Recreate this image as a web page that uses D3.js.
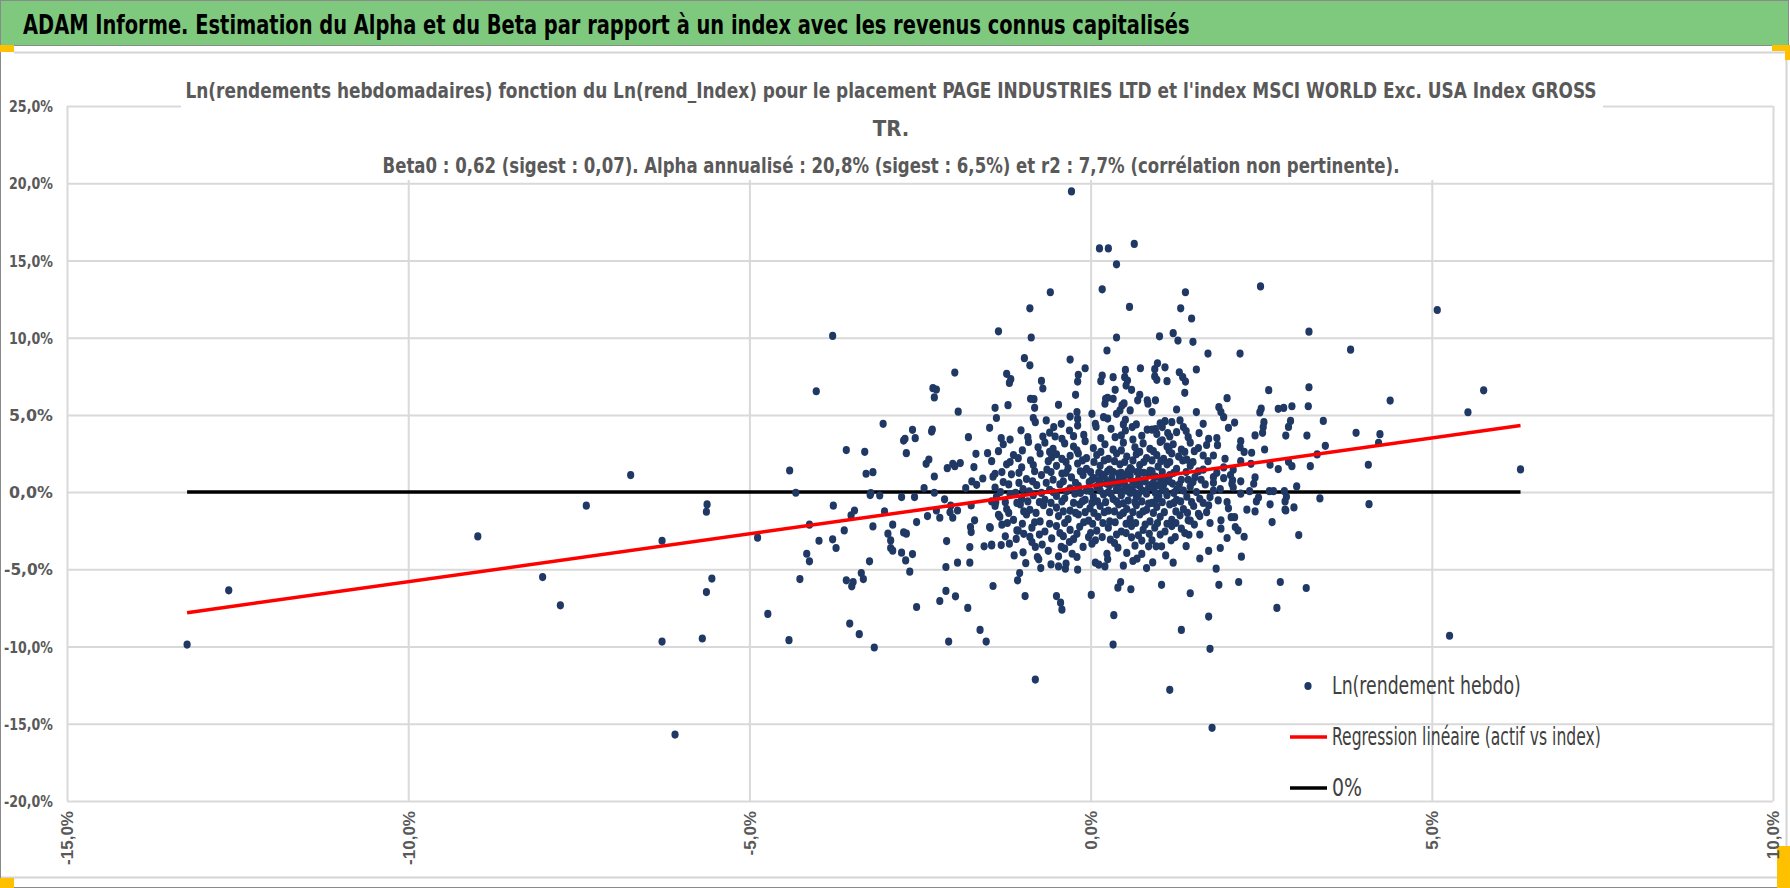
<!DOCTYPE html>
<html><head><meta charset="utf-8">
<script src="https://cdn.jsdelivr.net/npm/d3@7"></script>
<style>
html,body{margin:0;padding:0;background:#fff;}
svg{display:block;}
</style></head>
<body>
<svg id="c" width="1790" height="888"></svg>
<script>
// ---------- DATA (values in %) ----------
const pageTitle = "ADAM Informe. Estimation du Alpha et du Beta par rapport à un index avec les revenus connus capitalisés";
const chartTitleLines = [
  "Ln(rendements hebdomadaires) fonction du Ln(rend_Index) pour le placement PAGE INDUSTRIES LTD et l'index MSCI WORLD Exc. USA Index GROSS",
  "TR.",
  "Beta0 : 0,62 (sigest : 0,07). Alpha annualisé : 20,8% (sigest : 6,5%) et r2 : 7,7% (corrélation non pertinente)."
];
const legendLabels = ["Ln(rendement hebdo)", "Regression linéaire (actif vs index)", "0%"];
const xTicks = [-15, -10, -5, 0, 5, 10];
const yTicks = [-20, -15, -10, -5, 0, 5, 10, 15, 20, 25];
const beta = 0.62;          // slope of regression
const alphaWeekly = 0.40;   // weekly intercept in %

// index weekly log-return (x) vs asset weekly log-return (y), in %
const pointsLeft = [
[-13.24,-9.87],[-12.63,-6.36],[-8.98,-2.87],[-8.03,-5.50],[-7.77,-7.33],[-7.39,-0.88],[-6.74,1.10],[-6.28,-3.15],[-6.28,-9.68],[-6.09,-15.7],
[-5.69,-9.48],[-5.63,-6.47],[-5.55,-5.60],[-5.62,-0.80],[-5.63,-1.27]
];
const pointsMidLeft = [
[-4.88,-2.95],[-4.73,-7.89],[-4.42,-9.59],[-4.41,1.40],[-4.32,-0.04],[-4.26,-5.63],[-4.16,-3.99],[-4.12,-4.48],[-4.12,-2.11],[-3.98,-3.15],
[-3.78,-3.06],[-3.77,-0.88],[-3.73,-3.62],[-3.61,-2.48],[-3.58,2.72],[-3.58,-5.71],[-3.53,-8.51],[-3.51,-1.51],[-3.50,-6.10],[-3.48,-5.82],
[-3.46,-1.19],[-3.39,-9.20],[-3.36,-5.24],[-3.33,-5.63],[-3.31,2.61],[-3.29,1.19],[-3.24,-4.48],[-3.23,-0.19],[-3.22,-0.06],[-3.19,1.29],
[-3.19,-2.22],[-3.17,-10.06],[-3.09,-0.22],[-3.04,4.42],[-3.02,-1.25],[-2.97,-2.69],[-2.93,-3.13],[-2.93,-3.62],[-2.90,-3.79],[-2.90,-2.11],
[-2.77,-0.32],[-2.77,-3.92],[-2.74,3.34],[-2.72,3.45],[-2.74,-2.61],[-2.70,-2.69],[-2.71,-4.42],[-2.70,2.52],[-2.65,-5.15],[-2.61,4.03],
[-2.61,-4.01],[-2.57,3.49],[-2.58,-0.32],[-2.55,-1.94],[-2.55,-7.44],[-2.44,0.26],[-2.41,1.83],[-2.39,-1.55],[-2.37,2.11],[-2.33,3.92],
[-2.29,-0.04],[-2.29,1.01],[-2.26,-1.19],[-2.21,-1.66],[-2.21,-7.05],[-2.14,-0.47],[-2.12,-6.40],[-2.12,-4.85],[-2.10,1.55],[-2.11,-3.17],
[-2.08,-9.68],[-2.06,-1.31],[-2.05,-0.88],[-2.02,1.83],[-2.02,-1.66],[-1.99,1.68],[-1.98,-6.75],[-1.95,-4.57],[-1.95,-1.19],[-1.91,1.88],
[-1.83,0.26],[-1.80,-7.50],[-1.79,3.56],[-1.77,-4.57],[-1.77,-3.56],[-1.76,-2.26],[-1.75,-2.59],[-1.75,-0.86],[-1.74,0.69],[-1.71,1.62],
[-1.70,-1.83],[-1.68,2.48],[-1.67,0.47],[-1.62,-8.92],[-1.58,0.88],[-1.56,-3.51],[-1.53,-9.68],[-1.51,2.52],[-1.48,4.16],[-1.47,-2.31],
[-1.45,-3.45],[-1.43,-6.08],[-1.40,1.19],[-1.39,-0.67],[-1.35,-1.47],
[-3.78,10.11],[-4.02,6.53],[-2.32,4.05],[-2.31,6.73],[-2.26,6.64],[-2.29,6.13],[-1.99,7.74],[-1.94,5.21],[-1.38,4.80],[-1.35,10.41]
];
const pointsUpper = [
[-0.28,19.47],[0.13,15.78],[0.26,15.78],[0.64,16.07],[0.38,14.75],[0.17,13.13],[-0.59,12.94],[-0.89,11.90],[0.57,11.99],[1.39,12.94],
[1.32,11.90],[2.49,13.32],[1.48,11.24],[-0.87,10.01],[0.38,10.01],[1.01,10.09],[1.21,10.29],[1.28,9.81],[1.50,9.73],[0.24,9.17],
[1.72,8.97],[2.19,8.97],[-0.97,8.67],[-0.30,8.58],[-0.89,8.21],[-0.08,8.02],[-1.23,7.66],[-1.17,7.31],[-1.19,7.07],[-0.72,7.20],
[-0.70,6.71],[-0.18,7.60],[-0.19,7.16],[-0.22,6.30],[0.17,7.55],[0.15,7.18],[0.33,7.44],[0.51,7.91],[0.50,7.44],[0.54,7.22],
[0.52,6.90],[0.60,6.62],[0.36,6.62],[0.73,8.02],[0.94,7.96],[0.98,8.34],[1.09,8.08],[0.94,7.49],[0.97,7.27],[1.12,7.18],
[1.30,7.76],[1.35,7.44],[1.39,7.16],[1.38,6.43],[1.55,7.94],[2.61,6.60],[0.22,6.04],[0.21,5.72],[0.25,6.11],[0.33,6.04],
[0.72,6.30],[0.69,5.94],[0.83,5.94],[0.95,5.94],[0.84,5.72],[0.90,5.18],[0.46,5.61],[0.49,5.74],[0.38,5.07],[0.43,5.29],
[0.58,5.29],[1.26,5.35],[1.55,5.18],[2.00,6.08],[1.88,5.50],[1.91,5.18],[1.95,4.85],[2.11,4.50],[2.02,4.16],[2.50,5.40],
[2.48,5.16],[2.54,4.53],[2.53,4.21],[2.52,3.84],[2.41,3.67],[-1.40,5.46],[-1.21,5.63],[-1.31,3.49],[-0.88,6.04],[-0.83,6.02],
[-0.82,5.46],[-0.47,5.65],[-0.84,4.80],[-0.81,4.53],[-0.65,4.64],[-0.70,3.60],[-0.54,4.21],[-0.52,3.60],[-0.43,4.42],[-0.30,4.89],
[-0.20,5.18],[-0.19,4.74],[-0.19,4.31],[-0.31,3.99],[-0.25,3.62],[-0.92,3.56],[0.02,5.07],[0.07,4.42],[0.08,4.23],[0.19,4.85],
[0.25,4.76],[0.51,4.68],[0.48,4.38],[0.51,3.99],[0.61,4.21],[0.67,4.38],[0.36,3.56],[0.45,3.67],[0.83,4.04],[0.90,4.04],
[0.95,4.08],[0.97,3.77],[1.02,4.46],[1.09,4.59],[1.05,4.21],[1.13,3.82],[1.19,4.53],[1.31,4.64],[1.16,3.60],[1.26,3.88],
[1.36,4.21],[1.43,3.56],[1.59,3.82],[1.65,4.42],[1.73,3.45]
];
const pointsLower = [
[-1.07,-5.71],[-1.04,-5.24],[-0.96,-6.73],[-0.50,-6.73],[-0.44,-7.16],[-0.42,-7.61],[0.01,-6.66],[0.34,-7.97],[0.33,-9.87],[0.40,-6.19],
[0.44,-5.82],[0.59,-6.29],[1.04,-6.00],[1.46,-6.55],[1.33,-8.92],[1.16,-12.80],[1.73,-8.06],[1.75,-10.15],[1.78,-15.26],[1.88,-6.00],
[2.17,-5.82],[2.73,-7.50],[-0.81,-12.14],[1.84,-4.96],[1.73,-3.81],[2.21,-4.18],[1.90,-3.62],[2.00,-2.97],[2.25,-2.89],[2.66,-1.94],
[2.41,-1.25],[2.29,-1.14],[2.85,-1.14],[2.63,-0.79],[2.43,-0.60],[2.68,0.06],[2.62,0.06],[2.33,0.06],[2.39,0.54],[2.63,1.77],
[2.55,2.76],[2.36,2.55],[2.19,2.91],[2.35,1.83],[1.86,3.04],[2.09,1.45],[2.05,1.10],[2.08,0.76],[2.07,0.54],[2.11,-1.62],
[2.06,-1.62],[2.12,-2.26],[2.16,-2.48],[1.91,-2.37],[1.91,-1.83],[2.00,-0.64],[1.87,-0.54],[1.73,-0.86],[1.75,-0.32],[1.80,0.97],
[1.97,2.16],[1.80,2.37],[1.65,2.37],[1.53,0.97],[1.43,0.80],[1.60,-0.43],[1.58,-1.40],[1.43,-1.83],[1.33,-2.37],[1.44,-2.76],
[1.24,-2.91],[1.18,-3.12],[1.04,-3.51],[0.96,-3.51],[0.90,-3.12],[0.85,-3.51],[0.82,-4.92],[0.91,-4.55],[1.21,-4.57],[0.68,-4.31],
[0.62,-4.46],[0.48,-4.76],[0.53,-3.94],[0.65,-3.47],[0.75,-3.14],[0.60,-2.93],[0.07,-4.57],[0.12,-4.70],[0.21,-4.81],[0.25,-4.35],
[0.24,-3.99],[0.29,-3.08],[0.17,-2.91],[0.07,-3.12],[0.02,-3.34],[-0.03,-2.91],[-0.19,-5.02],[-0.37,-4.96],[-0.36,-4.63],[-0.47,-4.81],
[-0.47,-4.16],[-0.58,-4.68],[-0.73,-4.92],[-0.76,-4.35],[-0.78,-4.20],[-0.81,-3.55],[-0.71,-3.40],[-0.99,-3.90],[-0.86,-3.23],[-1.19,-3.34],
[-1.31,-3.43],[-1.45,-3.40],[-1.25,-2.86],[-1.09,-3.03],[-1.08,-2.48],[-1.30,-2.11],[-1.48,-2.26],[-0.31,-3.23],[-0.43,-3.55],[-0.38,-3.66],
[-0.27,-3.99],[-0.11,-3.55]
];
const pointsBand = [
[-1.28,3.1],[-0.91,3.25],[-0.77,2.9],[-0.67,3.2],[-0.55,2.8],[-0.38,3.15],[-0.25,2.95],[-0.08,3.3],[0.04,2.85],[0.21,3.1],
[0.33,2.75],[0.48,3.2],[0.65,2.9],[0.77,3.15],[0.87,2.8],[1.02,3.25],[1.12,2.95],[1.21,3.1],[1.33,2.75],[1.46,3.2],[1.58,2.85],[1.70,3.05],
[-1.13,2.4],[-1.06,2.2],[-0.74,2.5],[-0.57,2.25],[-0.50,2.45],[-0.42,2.15],[-0.30,2.35],[-0.18,2.5],[-0.06,2.2],[0.09,2.4],
[0.26,2.15],[0.38,2.5],[0.53,2.3],[0.67,2.45],[0.82,2.2],[0.97,2.4],[1.07,2.15],[1.19,2.5],[1.29,2.3],[1.41,2.1],
[-1.23,1.8],[-1.01,1.6],[-0.84,1.75],[-0.64,1.45],[-0.50,1.7],[-0.33,1.55],[-0.19,1.85],[-0.06,1.5],[0.14,1.7],[0.28,1.45],
[0.43,1.8],[0.58,1.55],[0.72,1.75],[0.87,1.4],[0.99,1.65],[1.12,1.8],[1.26,1.5],[1.46,1.7],[1.65,1.45],[1.95,1.6],
[-1.43,1.0],[-1.16,1.15],[-0.94,0.85],[-0.72,1.1],[-0.55,0.8],[-0.42,1.2],[-0.28,0.95],[-0.11,1.1],[0.02,0.8],[0.16,1.15],
[0.31,0.9],[0.41,1.2],[0.48,0.75],[0.58,1.05],[0.70,0.85],[0.85,1.15],[1.02,0.9],[1.16,1.1],[1.33,0.8],[1.95,0.9],[2.41,0.95],
[-1.40,0.3],[-1.20,0.5],[-0.99,0.2],[-0.79,0.45],[-0.60,0.15],[-0.45,0.5],[-0.30,0.25],[-0.18,0.4],[-0.06,0.1],[0.09,0.35],
[0.23,0.55],[0.38,0.2],[0.50,0.45],[0.60,0.15],[0.72,0.4],[0.92,0.25],[1.07,0.5],[1.26,0.15],[1.46,0.35],[1.68,0.5],[1.90,0.2],[2.09,0.3],
[-1.38,-0.3],[-1.18,-0.15],[-1.01,-0.45],[-0.84,-0.2],[-0.67,-0.5],[-0.50,-0.25],[-0.38,-0.4],[-0.23,-0.1],[-0.08,-0.5],[0.04,-0.3],
[0.19,-0.15],[0.33,-0.45],[0.45,-0.2],[0.55,-0.55],[0.67,-0.3],[0.82,-0.1],[0.97,-0.45],[1.12,-0.2],[1.26,-0.5],[1.41,-0.3],[2.46,-0.35],[2.87,-0.3],
[-1.40,-0.9],[-1.23,-1.1],[-1.03,-0.8],[-0.89,-1.15],[-0.69,-0.85],[-0.50,-1.0],[-0.30,-1.2],[-0.16,-0.8],[-0.01,-1.05],[0.14,-0.9],
[0.26,-1.2],[0.41,-0.8],[0.53,-1.1],[0.67,-0.85],[0.82,-1.15],[0.97,-0.95],[1.16,-0.8],[1.36,-1.1],[1.51,-0.9],[2.02,-1.05],
[-1.33,-1.6],[-1.13,-1.8],[-0.94,-1.45],[-0.74,-1.9],[-0.47,-1.55],[-0.33,-1.75],[-0.18,-1.45],[-0.03,-1.85],[0.11,-1.6],[0.28,-1.9],
[0.43,-1.5],[0.58,-1.75],[0.72,-1.45],[0.87,-1.9],[1.02,-1.6],[1.19,-1.8],[1.31,-1.5],[1.46,-1.85],[1.60,-1.55],
[-1.06,-2.5],[-0.86,-2.3],[-0.67,-2.55],[-0.50,-2.2],[-0.30,-2.45],[-0.16,-2.25],[0.09,-2.5],[0.26,-2.3],[0.45,-2.55],[0.60,-2.2],
[0.77,-2.45],[0.94,-2.3],[1.09,-2.55],[1.19,-2.2],[-0.89,-2.9],[-0.57,-3.0],[-0.40,-2.85],[-0.25,-3.05],
[0.35,0.6],[0.42,0.9],[0.55,0.3],[0.62,0.65],[0.68,1.3],[0.75,0.1],[0.80,0.7],[0.88,0.45],[0.95,1.0],[1.05,0.2],
[1.10,0.75],[0.30,-0.1],[0.45,0.05],[0.58,-0.05],[0.70,-0.15],[0.85,0.3],[0.50,1.1],[0.40,0.35],[0.65,-0.65],[0.90,-0.7],
[0.25,0.7],[0.15,0.55],[0.10,-0.6],[1.00,-0.25],[1.20,0.55],[0.78,1.25],[0.60,1.45],[0.33,1.3],[0.20,1.0],[0.05,0.9]
];
const pointsBand2 = [
[-1.35,2.65],[-1.0,2.7],[-0.6,2.6],[-0.2,2.7],[0.15,2.6],[0.45,2.7],[0.72,2.6],[0.92,2.65],[1.15,2.7],[1.38,2.6],[1.52,2.65],[2.25,2.6],
[-1.45,2.0],[-1.18,1.95],[-0.88,2.05],[-0.62,2.0],[-0.36,1.95],[-0.12,2.05],[0.05,1.95],[0.2,2.05],[0.35,2.0],[0.5,1.95],[0.62,2.05],
[0.78,1.95],[0.9,2.05],[1.03,2.0],[1.16,1.95],[1.35,2.05],[1.5,1.95],[1.72,2.0],[2.2,2.0],
[-1.3,1.3],[-1.05,1.25],[-0.82,1.35],[-0.58,1.3],[-0.36,1.25],[-0.15,1.35],[0.0,1.3],[0.12,1.25],[0.25,1.35],[0.45,1.25],[0.55,1.35],
[0.72,1.3],[0.9,1.35],[1.05,1.3],[1.22,1.25],[1.4,1.3],[1.58,1.35],[1.85,1.25],
[-1.28,0.65],[-1.05,0.6],[-0.85,0.7],[-0.65,0.6],[-0.4,0.7],[-0.22,0.6],[-0.02,0.65],[0.12,0.75],[0.28,0.45],[0.46,0.62],[0.66,0.5],
[0.75,0.75],[0.92,0.6],[1.0,0.45],[1.15,0.7],[1.3,0.5],[1.5,0.65],[1.62,0.8],[1.8,0.6],[2.2,0.7],
[-1.32,0.0],[-1.1,-0.05],[-0.9,0.05],[-0.72,-0.05],[-0.55,0.0],[-0.35,0.05],[-0.15,-0.05],[0.0,0.05],[0.14,0.1],[0.26,0.0],[0.52,0.1],
[0.63,0.0],[0.8,0.05],[0.95,-0.05],[1.1,0.05],[1.22,-0.05],[1.36,0.1],[1.55,0.0],[1.8,0.1],[2.2,-0.1],
[-1.45,-0.6],[-1.25,-0.65],[-1.08,-0.7],[-0.92,-0.6],[-0.75,-0.65],[-0.58,-0.7],[-0.42,-0.6],[-0.25,-0.7],[-0.12,-0.6],[0.02,-0.7],
[0.22,-0.65],[0.38,-0.6],[0.48,-0.72],[0.75,-0.6],[0.85,-0.75],[1.05,-0.65],[1.22,-0.7],[1.32,-0.6],[1.48,-0.65],[1.65,-0.7],
[-1.2,-1.35],[-0.98,-1.25],[-0.8,-1.35],[-0.6,-1.3],[-0.4,-1.25],[-0.22,-1.35],[-0.08,-1.3],[0.05,-1.35],[0.2,-1.3],[0.35,-1.25],
[0.48,-1.35],[0.62,-1.3],[0.77,-1.25],[0.92,-1.35],[1.08,-1.3],[1.25,-1.25],[1.42,-1.35],[1.7,-1.3],
[-1.22,-2.0],[-1.0,-2.05],[-0.82,-1.95],[-0.6,-2.05],[-0.38,-2.0],[-0.1,-1.95],[0.03,-2.05],[0.18,-2.0],[0.36,-1.95],[0.52,-2.05],
[0.66,-2.0],[0.8,-2.1],[0.98,-2.0],[1.12,-2.05],[1.25,-2.0],[1.52,-2.1],[1.75,-2.0],
[-0.98,-2.7],[-0.75,-2.75],[-0.45,-2.65],[-0.2,-2.7],[0.0,-2.65],[0.38,-2.75],[0.52,-2.65],[0.7,-2.8],[0.86,-2.7],[1.02,-2.75],[1.38,-2.65],[1.6,-2.75],
[-1.18,3.4],[-1.02,4.0],[-0.6,3.85],[-0.42,3.45],[-0.1,3.7],[0.15,3.5],[0.3,4.1],[0.62,3.4],[0.75,3.65],[1.05,3.35],[1.4,3.95],[1.85,3.5],[2.2,3.3],
[-1.12,-4.1],[-0.62,-3.8],[-0.2,-4.2],[0.4,-3.6],[0.75,-4.0],[1.1,-4.1],[1.4,-3.5],[1.6,-4.3],[-0.95,-4.6],[0.35,-3.3]
];
const pointsRight = [
[5.08,11.79],[3.20,10.39],[3.81,9.22],[3.20,6.79],[5.76,6.59],[4.39,5.93],[5.53,5.17],[2.75,5.39],[2.83,5.45],[2.95,5.56],
[3.19,5.56],[2.93,4.61],[2.90,4.22],[3.41,4.61],[2.86,3.66],[3.17,3.66],[3.89,3.84],[4.24,3.75],[4.22,3.19],[3.44,3.00],
[3.32,2.44],[2.90,1.96],[2.95,1.68],[3.22,1.68],[4.07,1.77],[2.75,1.49],[6.30,1.47],[3.02,0.37],[2.84,0.06],[3.36,-0.41],
[2.85,-0.60],[2.86,-1.19],[2.98,-0.99],[4.08,-0.78],[3.05,-2.78],[2.78,-5.82],[3.16,-6.21],[5.26,-9.30]
];
const allPoints = [].concat(pointsLeft, pointsMidLeft, pointsUpper, pointsLower, pointsBand, pointsBand2, pointsRight);

// ---------- LAYOUT ----------
const svg = d3.select("#c");
const plot = {left: 67, right: 1773, top: 106, bottom: 801};
const x = d3.scaleLinear().domain([xTicks[0], xTicks[xTicks.length-1]]).range([plot.left, plot.right]);
const y = d3.scaleLinear().domain([yTicks[0], yTicks[yTicks.length-1]]).range([plot.bottom, plot.top]);
const fmt = d => d.toFixed(1).replace(".", ",") + "%";
const NARROW = "'Liberation Sans Narrow','DejaVu Sans Condensed','Arial Narrow',sans-serif";

// place a text at (tx,ty) and squeeze it horizontally to a target width
function fitText(sel, tx, ty, width) {
  const w = sel.node().getComputedTextLength();
  const s = w > 0 ? width / w : 1;
  sel.attr("x", 0).attr("y", 0).attr("transform", `translate(${tx},${ty}) scale(${s},1)`);
}

// frame
svg.append("rect").attr("x",0).attr("y",0).attr("width",1790).attr("height",888).attr("fill","#fff");
svg.append("rect").attr("x",0.5).attr("y",0.5).attr("width",1788).attr("height",45).attr("fill","#7fc97f").attr("stroke","#8a8a8a").attr("stroke-width",1);
svg.append("path").attr("d","M14,52.5H1786.5V877.5H0.5").attr("fill","none").attr("stroke","#d4d4d4").attr("stroke-width",2);
svg.append("line").attr("x1",0.5).attr("x2",0.5).attr("y1",46).attr("y2",888).attr("stroke","#8a8a8a");
svg.append("line").attr("x1",0).attr("x2",1790).attr("y1",887.5).attr("y2",887.5).attr("stroke","#8a8a8a");
const orange = "#ffc000";
svg.append("rect").attr("x",0).attr("y",45).attr("width",14).attr("height",7).attr("fill",orange);
svg.append("rect").attr("x",1772).attr("y",45).attr("width",18).attr("height",6).attr("fill",orange);
svg.append("rect").attr("x",1785).attr("y",45).attr("width",5).attr("height",15).attr("fill",orange);
svg.append("rect").attr("x",0).attr("y",878).attr("width",14).attr("height",10).attr("fill",orange);
svg.append("rect").attr("x",1777).attr("y",846).attr("width",13).attr("height",42).attr("fill",orange);

// page title
const pt = svg.append("text").text(pageTitle)
  .attr("font-family",NARROW).attr("font-weight","bold").attr("font-size",26).attr("fill","#000");
fitText(pt, 23, 34, 1167);

// gridlines + y labels
const yAxis = d3.axisLeft(y).tickValues(yTicks).tickSize(-(plot.right-plot.left)).tickFormat(fmt).tickPadding(0);
const gy = svg.append("g").attr("transform",`translate(${plot.left},0)`).call(yAxis);
gy.select(".domain").remove();
gy.selectAll(".tick line").attr("stroke","#d9d9d9").attr("stroke-width",2);
gy.selectAll(".tick text").attr("font-family",NARROW).attr("font-weight","bold").attr("font-size",16).attr("fill","#595959")
  .attr("text-anchor","end").attr("dy","0.35em")
  .each(function(d){ fitText(d3.select(this), -14, 0, d < 0 ? 49 : 44); });

const xAxis = d3.axisBottom(x).tickValues(xTicks).tickSize(-(plot.bottom-plot.top)).tickFormat(fmt);
const gx = svg.append("g").attr("transform",`translate(0,${plot.bottom})`).call(xAxis);
gx.select(".domain").remove();
gx.selectAll(".tick line").attr("stroke","#d9d9d9").attr("stroke-width",2);
gx.selectAll(".tick text")
  .attr("font-family","'Liberation Sans','DejaVu Sans',sans-serif").attr("font-weight","bold").attr("font-size",17).attr("fill","#595959")
  .attr("transform","rotate(-90)").attr("text-anchor","end").attr("x",-10).attr("y",0).attr("dy","0.35em");

// chart title with white background
svg.append("rect").attr("x",181).attr("y",68).attr("width",1422).attr("height",112).attr("fill","#fff");
const tLines = [[chartTitleLines[0], 98, 1412],[chartTitleLines[1], 136, null],[chartTitleLines[2], 173, 1018]];
tLines.forEach(([t, yy, len]) => {
  const el = svg.append("text").attr("x",891).attr("y",yy).attr("text-anchor","middle").text(t)
    .attr("font-family",NARROW).attr("font-weight","bold").attr("font-size",22).attr("fill","#595959");
  if (len) fitText(el, 891, yy, len);
});

// zero line and regression line across data x-range
const xExt = d3.extent(allPoints, d => d[0]);
const line = d3.line().x(d => x(d[0])).y(d => y(d[1]));
svg.append("path").datum(xExt.map(v => [v, 0])).attr("d", line)
  .attr("stroke","#000").attr("stroke-width",3.5).attr("fill","none");

// points
svg.append("g").selectAll("ellipse").data(allPoints).join("ellipse")
  .attr("cx", d => x(d[0])).attr("cy", d => y(d[1])).attr("rx",3.6).attr("ry",4.1).attr("fill","#203864");

svg.append("path").datum(xExt.map(v => [v, alphaWeekly + beta * v])).attr("d", line)
  .attr("stroke","#ff0000").attr("stroke-width",3.5).attr("fill","none");

// legend
const lg = svg.append("g").attr("font-family",NARROW).attr("font-size",24).attr("fill","#404040");
const legY = [686, 737, 788];
const legW = [189, 269, 30];
lg.append("ellipse").attr("cx",1308).attr("cy",legY[0]).attr("rx",3.6).attr("ry",4.1).attr("fill","#203864");
lg.append("line").attr("x1",1290).attr("x2",1327).attr("y1",legY[1]).attr("y2",legY[1]).attr("stroke","#ff0000").attr("stroke-width",3.5);
lg.append("line").attr("x1",1290).attr("x2",1327).attr("y1",legY[2]).attr("y2",legY[2]).attr("stroke","#000").attr("stroke-width",3.5);
legendLabels.forEach((t,i) => {
  const el = lg.append("text").attr("dy","0.35em").text(t);
  fitText(el, 1332, legY[i], legW[i]);
});
</script>
</body></html>
